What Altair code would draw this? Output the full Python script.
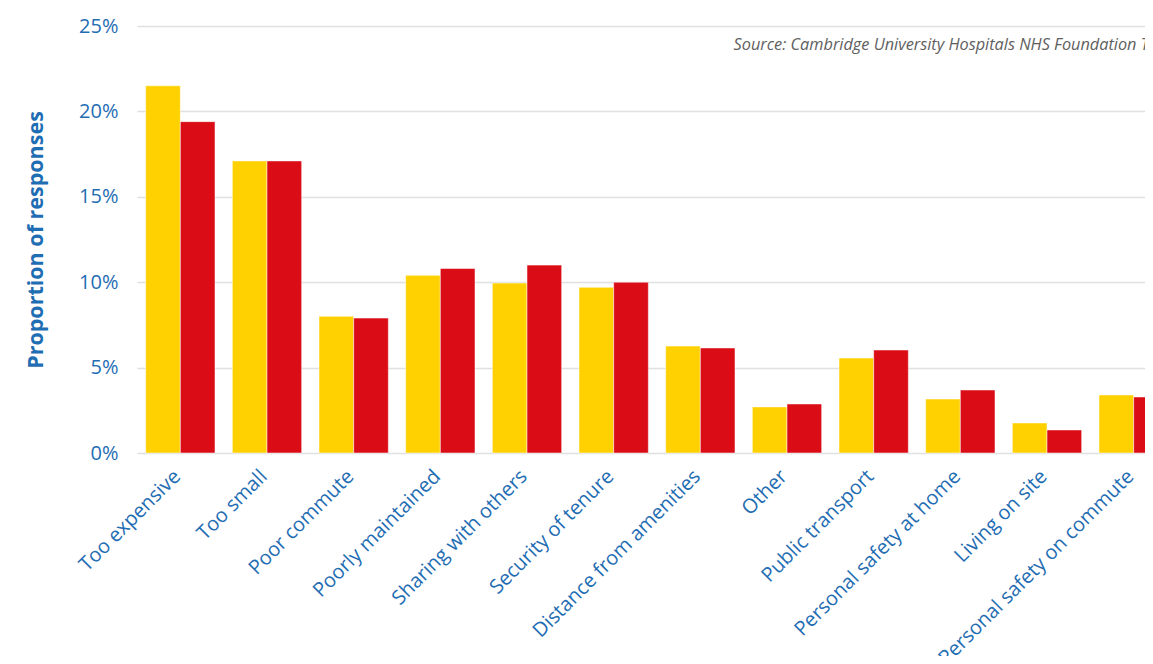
import altair as alt
import pandas as pd

categories = ["Too expensive", "Too small", "Poor commute", "Poorly maintained",
              "Sharing with others", "Security of tenure", "Distance from amenities",
              "Other", "Public transport", "Personal safety at home", "Living on site",
              "Personal safety on commute"]
series_names = ["Survey A", "Survey B"]
series_a = [21.5, 17.1, 8.0, 10.4, 9.95, 9.7, 6.26, 2.7, 5.56, 3.16, 1.76, 3.4]
series_b = [19.4, 17.1, 7.9, 10.8, 11.0, 10.0, 6.15, 2.87, 6.03, 3.69, 1.35, 3.28]
y_ticks = [0, 0.05, 0.10, 0.15, 0.20, 0.25]
source_text = "Source: Cambridge University Hospitals NHS Foundation Trust"

rows = []
for c, a, b in zip(categories, series_a, series_b):
    rows.append({"Category": c, "Series": series_names[0], "Value": a / 100})
    rows.append({"Category": c, "Series": series_names[1], "Value": b / 100})
df = pd.DataFrame(rows)

BLUE = "#1f6db3"
FONT = "Open Sans"
W, H = 1008, 427       # visible plot area (clipped at the page edge)
FULL_W = 1040          # full plot width of the original (extends past the page)

bars = alt.Chart(df).mark_bar(stroke="white", strokeWidth=1, strokeOpacity=0.5).encode(
    x=alt.X("Category:N", sort=categories, title=None,
            scale=alt.Scale(paddingInner=0.2, paddingOuter=0.1, range=[0, FULL_W]),
            axis=alt.Axis(labelAngle=-45, labelAlign="right", labelBaseline="middle",
                          labelFontSize=20, labelColor=BLUE, labelFont=FONT,
                          ticks=False, domain=False, labelPadding=20, labelOffset=-3,
                          labelLimit=400)),
    xOffset=alt.XOffset("Series:N", sort=series_names),
    y=alt.Y("Value:Q", title="Proportion of responses",
            scale=alt.Scale(domain=[0, 0.25], nice=False),
            axis=alt.Axis(values=y_ticks, format=".0%", labelFontSize=20,
                          labelColor=BLUE, labelFont=FONT, ticks=False, domain=False,
                          labelPadding=19, titleFontSize=21.5, titleColor=BLUE,
                          titleFont=FONT, titleFontWeight="bold", titlePadding=31,
                          gridColor="#e0e0e0", gridWidth=1.5)),
    color=alt.Color("Series:N", sort=series_names,
                    scale=alt.Scale(domain=series_names, range=["#ffd100", "#da0c16"]),
                    legend=None),
)

source = alt.Chart(pd.DataFrame({"t": [source_text]})).mark_text(
    align="right", baseline="middle", fontStyle="italic", fontSize=16.3,
    font=FONT, color="#606060"
).encode(text="t:N", x=alt.value(FULL_W), y=alt.value(19))

chart = alt.layer(bars, source).properties(
    width=W, height=H,
    autosize=alt.AutoSizeParams(type="none"),
    padding={"left": 129, "top": 18, "right": 0, "bottom": 203},
).configure_view(stroke=None)

chart.save("out.html", embed_options={"renderer": "svg", "actions": False})
